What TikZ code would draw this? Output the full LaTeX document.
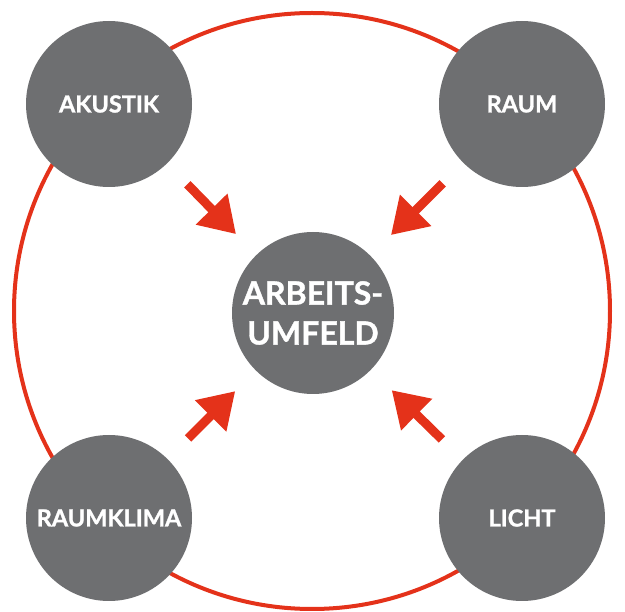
\documentclass[tikz,border=0pt]{standalone}
\usepackage{fontspec}
\setmainfont{Lato}[BoldFeatures={FakeBold=1.2}]
\usetikzlibrary{arrows.meta}
\definecolor{dgrey}{RGB}{110,111,113}
\definecolor{ored}{RGB}{228,50,26}
\tikzset{
  topic/.style={circle, fill=dgrey, minimum size=166pt, inner sep=0pt, text=white, font=\fontsize{23.5}{27}\selectfont\bfseries},
  core/.style={circle, fill=dgrey, minimum size=162pt, inner sep=0pt, text=white, align=center, font=\fontsize{32}{40}\selectfont\bfseries},
  ring/.style={draw=ored, line width=4pt},
  arr/.style={draw=ored, line width=9pt, -{Triangle[length=35pt,width=42pt]}, shorten <=29pt, shorten >=29pt}
}
\begin{document}
\begin{tikzpicture}[x=1pt,y=-1pt]
\useasboundingbox (0,0) rectangle (625,612);
\coordinate (mid) at (312,311);
\draw[ring] (mid) circle (298);
\node[core] (c) at (313,313) {ARBEITS-\\UMFELD};
\node[topic] (ak) at (109,104) {AKUSTIK};
\node[topic] (ra) at (522,104) {RAUM};
\node[topic] (rk) at (109,518) {RAUMKLIMA};
\node[topic] (li) at (522,518) {LICHT};
\draw[arr] (ak) -- (c);
\draw[arr] (ra) -- (c);
\draw[arr] (rk) -- (c);
\draw[arr] (li) -- (c);
\end{tikzpicture}
\end{document}
